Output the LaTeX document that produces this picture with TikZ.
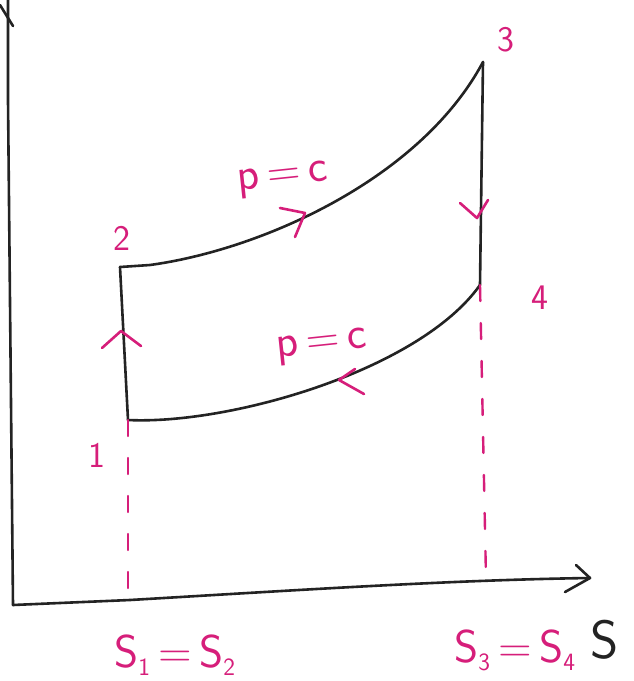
\documentclass[tikz,border=0pt]{standalone}
\usetikzlibrary{arrows.meta}
\definecolor{ink}{RGB}{214,30,122}
\definecolor{pen}{RGB}{35,35,35}
\begin{document}
\begin{tikzpicture}[x=1pt,y=-1pt,line cap=round,line join=round,
  curve/.style={draw=pen,line width=2.6pt},
  chev/.style={draw=ink,line width=2.6pt},
  guide/.style={draw=ink,line width=2.4pt,dash pattern=on 16pt off 22pt},
  lbl/.style={text=ink,font=\sffamily\fontsize{36}{36}\selectfont,inner sep=0pt},
  big/.style={text=ink,font=\sffamily\fontsize{46}{46}\selectfont,inner sep=0pt},
  axlbl/.style={text=pen,font=\sffamily\fontsize{54}{54}\selectfont,inner sep=0pt}]
\useasboundingbox (0,0) rectangle (634,681);
\fill[white] (0,0) rectangle (634,681);
% axes
\coordinate (O) at (13,605);
\coordinate (Ytop) at (8,-2);
\coordinate (Xend) at (590,578);
\coordinate (Yb) at (0,5);
\coordinate (Yc) at (13,26);
\coordinate (Xb1) at (576,565);
\coordinate (Xb2) at (565,592);
\draw[curve] (Ytop) -- (8,100) -- (O);
\draw[curve] (O) -- (130,600) .. controls (300,590) and (450,580) .. (Xend);
\draw[curve] (Yb) -- (Yc);
\draw[curve] (Xb1) -- (Xend) -- (Xb2);
% states
\coordinate (P1) at (128,420);
\coordinate (P2) at (120,267);
\coordinate (P3) at (483,62);
\coordinate (P4) at (480,285);
\coordinate (B1) at (128,598);
\coordinate (B4) at (486,578);
\draw[curve] (P1) -- (P2);
\draw[curve] (P2) -- (150,265) .. controls (260,250) and (420,180) .. (P3);
\draw[curve] (P3) -- (P4);
\draw[curve] (P1) .. controls (230,425) and (420,370) .. (P4);
\draw[guide] (P1) -- (B1);
\draw[guide] (P4) -- (B4);
% direction chevrons
\draw[chev] (102,348) -- (121,331) -- (141,346);
\draw[chev] (280,208) -- (305,213) -- (295,237);
\draw[chev] (460,203) -- (477,218) -- (488,200);
\draw[chev] (364,394) -- (339,380) -- (355,369);
% labels
\node[lbl] (l1) at (97,455) {1};
\node[lbl] (l2) at (122,238) {2};
\node[lbl] (l3) at (506,40) {3};
\node[lbl] (l4) at (540,298) {4};
\node[big,rotate=6] (pc1) at (283,180) {p\,=\,c};
\node[big,rotate=6] (pc2) at (322,347) {p\,=\,c};
\node[big] (s12) at (175,655) {S$_{\mathsf{1}}$\,=\,S$_{\mathsf{2}}$};
\node[big] (s34) at (515,650) {S$_{\mathsf{3}}$\,=\,S$_{\mathsf{4}}$};
\node[axlbl] (S) at (605,640) {S};
\end{tikzpicture}
\end{document}
